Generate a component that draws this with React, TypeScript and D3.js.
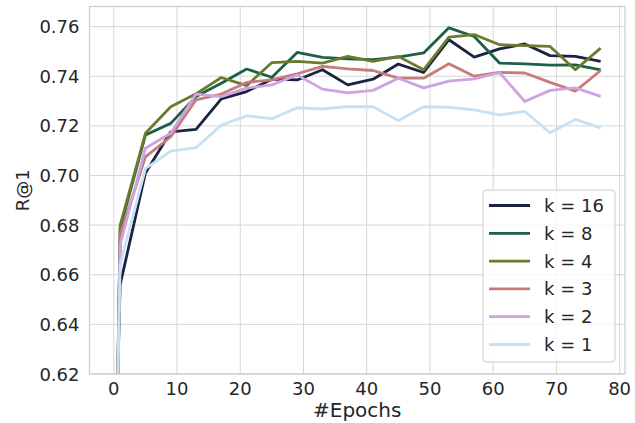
import React from "react";
import * as d3 from "d3";

// epochs at which R@1 was measured
const epochs = [0, 1, 5, 9, 13, 17, 21, 25, 29, 33, 37, 41, 45, 49, 53, 57, 61, 65, 69, 73, 77];

const k16 = [0.559, 0.656, 0.701, 0.7176, 0.7186, 0.7309, 0.7338, 0.7388, 0.7385, 0.7426, 0.7365, 0.7388, 0.7449, 0.7415, 0.7547, 0.7477, 0.751, 0.753, 0.7483, 0.748, 0.746];
const k8 = [0.52, 0.6787, 0.7163, 0.721, 0.7318, 0.7372, 0.7429, 0.7396, 0.7496, 0.7476, 0.747, 0.7467, 0.7477, 0.7494, 0.7595, 0.756, 0.7453, 0.745, 0.7445, 0.7446, 0.7426];
const k4 = [0.518, 0.68, 0.717, 0.7277, 0.7329, 0.7395, 0.7362, 0.7455, 0.746, 0.7453, 0.748, 0.746, 0.748, 0.7426, 0.7558, 0.7568, 0.7527, 0.7523, 0.752, 0.7426, 0.7513];
const k3 = [0.525, 0.676, 0.7075, 0.7156, 0.7305, 0.7328, 0.7375, 0.7385, 0.741, 0.744, 0.743, 0.7423, 0.7392, 0.7392, 0.745, 0.74, 0.7415, 0.7413, 0.7375, 0.734, 0.7423];
const k2 = [0.53, 0.672, 0.711, 0.717, 0.7328, 0.7318, 0.7352, 0.7365, 0.7405, 0.7348, 0.7333, 0.7343, 0.7392, 0.7353, 0.738, 0.7389, 0.7415, 0.7298, 0.7343, 0.7353, 0.7319];
const k1 = [0.54, 0.664, 0.7028, 0.7098, 0.7112, 0.7203, 0.724, 0.7229, 0.7273, 0.7268, 0.7278, 0.7277, 0.7221, 0.7277, 0.7275, 0.7264, 0.7244, 0.7258, 0.7172, 0.7226, 0.7192];

const labels = ["k = 16", "k = 8", "k = 4", "k = 3", "k = 2", "k = 1"];
const xTicks = [0, 10, 20, 30, 40, 50, 60, 70, 80];
const yTicks = [0.62, 0.64, 0.66, 0.68, 0.7, 0.72, 0.74, 0.76];

const series = [k16, k8, k4, k3, k2, k1];

const width = 635,
  height = 423;
const plot = { left: 89.5, right: 625, top: 6.5, bottom: 374 };
const font = "DejaVu Sans";
const textColor = "#262626";
const gridColor = "#d6d6d6";

export default function App() {
  const x = d3.scaleLinear().domain([-3.85, 80.85]).range([plot.left, plot.right]);
  const y = d3.scaleLinear().domain([0.62, 0.7681]).range([plot.bottom, plot.top]);

  const color = (i: number) => d3.interpolateCubehelixDefault((i + 1) / (series.length + 1));

  const line = d3
    .line<number>()
    .x((_, i) => x(epochs[i]))
    .y((d) => y(d));

  const legendX = 483,
    legendY = 190,
    rowH = 27.8;

  return (
    <div style={{ position: "absolute", left: 0, top: 0 }}>
      <svg width={width} height={height} style={{ display: "block", background: "#fff" }}>
        <defs>
          <clipPath id="plotClip">
            <rect x={plot.left} y={plot.top} width={plot.right - plot.left} height={plot.bottom - plot.top} />
          </clipPath>
        </defs>

        {/* grid */}
        {xTicks.map((t) => (
          <line key={"gx" + t} x1={x(t)} x2={x(t)} y1={plot.top} y2={plot.bottom} stroke={gridColor} strokeWidth={1} />
        ))}
        {yTicks.map((t) => (
          <line key={"gy" + t} x1={plot.left} x2={plot.right} y1={y(t)} y2={y(t)} stroke={gridColor} strokeWidth={1} />
        ))}

        {/* lines */}
        <g clipPath="url(#plotClip)">
          {series.map((s, i) => (
            <path key={labels[i]} d={line(s) || ""} fill="none" stroke={color(i)} strokeWidth={2.8} strokeLinejoin="round" />
          ))}
        </g>

        {/* spines */}
        <rect
          x={plot.left}
          y={plot.top}
          width={plot.right - plot.left}
          height={plot.bottom - plot.top}
          fill="none"
          stroke="#cccccc"
          strokeWidth={1.2}
        />

        {/* tick labels */}
        {xTicks.map((t) => (
          <text key={"tx" + t} x={x(t)} y={394.5} textAnchor="middle" fontFamily={font} fontSize={18} fill={textColor}>
            {t}
          </text>
        ))}
        {yTicks.map((t) => (
          <text
            key={"ty" + t}
            x={plot.left - 10}
            y={y(t)}
            textAnchor="end"
            dominantBaseline="central"
            fontFamily={font}
            fontSize={18}
            fill={textColor}
          >
            {t.toFixed(2)}
          </text>
        ))}

        {/* axis labels */}
        <text x={(plot.left + plot.right) / 2} y={417} textAnchor="middle" fontFamily={font} fontSize={20} fill={textColor}>
          #Epochs
        </text>
        <text
          transform={`translate(22,${(plot.top + plot.bottom) / 2}) rotate(-90)`}
          textAnchor="middle"
          dominantBaseline="central"
          fontFamily={font}
          fontSize={18}
          fill={textColor}
        >
          R@1
        </text>

        {/* legend */}
        <rect x={legendX} y={legendY} width={132} height={172} rx={4} fill="#fff" fillOpacity={0.8} stroke="#cccccc" strokeWidth={1} />
        {labels.map((l, i) => {
          const cy = legendY + 15.5 + i * rowH;
          return (
            <g key={"lg" + l}>
              <line x1={489} x2={530} y1={cy} y2={cy} stroke={color(i)} strokeWidth={2.8} />
              <text x={544} y={cy} dominantBaseline="central" fontFamily={font} fontSize={18} fill={textColor}>
                {l}
              </text>
            </g>
          );
        })}
      </svg>
    </div>
  );
}
